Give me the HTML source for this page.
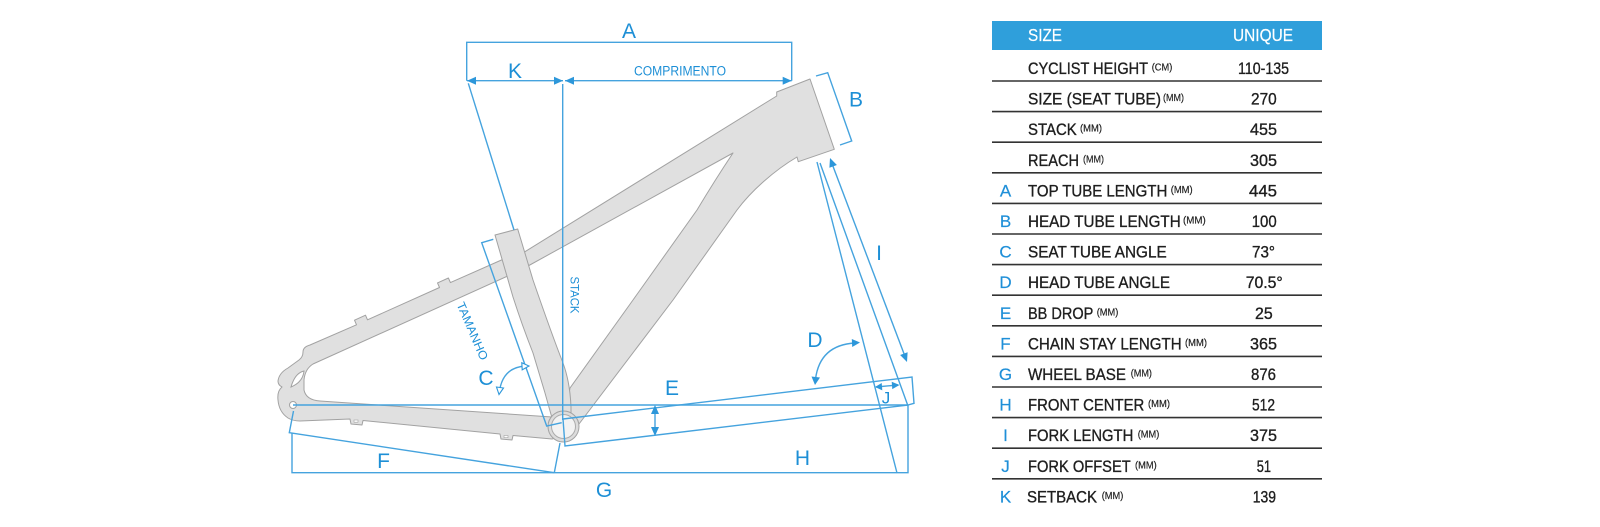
<!DOCTYPE html>
<html>
<head>
<meta charset="utf-8">
<style>
  html,body{margin:0;padding:0;background:#fff;}
  svg{display:block;}
  .ln{fill:none;stroke:#45a3de;stroke-width:1.4;}
  .ah{fill:#2d97da;stroke:none;}
  .lb{font-family:"Liberation Sans",Arial,sans-serif;fill:#1d8fd6;}
  .fr{fill:#e0e0e0;stroke:#a2a2a2;stroke-width:1;stroke-linejoin:round;}
  .tt{font-family:"Liberation Sans",Arial,sans-serif;font-size:17px;fill:#1e1e1e;stroke:#1e1e1e;stroke-width:0.35;}
  .sp{font-family:"Liberation Sans",Arial,sans-serif;font-size:10.5px;fill:#1e1e1e;stroke:#1e1e1e;stroke-width:0.2;}
  .tl{font-family:"Liberation Sans",Arial,sans-serif;font-size:17px;fill:#1f8fd8;stroke:#1f8fd8;stroke-width:0.2;}
</style>
</head>
<body>
<svg width="1600" height="527" viewBox="0 0 1600 527" xmlns="http://www.w3.org/2000/svg">
  <rect width="1600" height="527" fill="#fff"/>

  <!-- ============ FRAME ============ -->
  <path class="fr" d="M 506,258
    L 450.4,282.6 L 448.4,278.0 L 437.5,282.9 L 439.5,287.5
    L 367.5,319.8 L 365.5,315.2 L 354.5,320.2 L 356.5,324.8
    L 310,345
    Q 303,347 303,352 Q 303,357 299,360 L 288,368 Q 279,373 278,381 Q 278,385 282,387
    Q 277,391 278,400 Q 279,412 288,418 Q 293,421 300,421
    L 350,419 L 351,424 L 362,425 L 363,420.5
    L 500,434 L 501,439 L 512,440 L 513,435.5 L 552,439
    L 560,437 L 552,417
    L 320,401 Q 306,400 304,390 L 304,380 Q 305,369 313,364
    L 510,275 Z"/>
  <path d="M 291,387 Q 295,373 304,371 Q 303,382 291,387 Z" fill="#fff" stroke="#a2a2a2" stroke-width="1"/>
  <circle cx="293" cy="405" r="3.5" fill="#fff" stroke="#a2a2a2" stroke-width="1"/>
  <rect x="354" y="420" width="4" height="2.2" fill="#fff" stroke="#a2a2a2" stroke-width="0.6"/>
  <rect x="504" y="435.5" width="4" height="2.2" fill="#fff" stroke="#a2a2a2" stroke-width="0.6"/>

  <path class="fr" d="M 518,256
    L 776.7,96 L 776.7,92 L 810,79 L 834.3,149.3 L 798.3,161.7 L 797,157
    C 775,170 752,190 737,210
    L 673,300 L 579,424 L 562,428
    L 570,388 L 633,300 L 697,210 Q 715,180 733,153
    L 528,266 Z"/>

  <path class="fr" d="M 495,235 L 517.7,229 L 533,280 Q 552,335 563,363 Q 570,382 571,407 L 571,418
    L 552,418 L 545,393 L 533,353 Q 522,325 513,297 Z"/>

  <circle cx="563.5" cy="426.5" r="15.5" fill="#dcdcdc" stroke="#a2a2a2" stroke-width="1"/>
  <circle cx="563.5" cy="426.5" r="12" fill="#f3f3f3" stroke="#ababab" stroke-width="1"/>

  <!-- ============ DIMENSION LINES ============ -->
  <path class="ln" d="M466.7,80.7 V42.3 H791.7 V80.7"/>
  <path class="ln" d="M467,80.7 H563 M565,80.7 H791.7"/>
  <polygon class="ah" points="467,80.7 476,76.7 476,84.7"/>
  <polygon class="ah" points="563,80.7 554,76.7 554,84.7"/>
  <polygon class="ah" points="565,80.7 574,76.7 574,84.7"/>
  <polygon class="ah" points="791.7,80.7 782.7,76.7 782.7,84.7"/>
  <path class="ln" d="M562.7,84 V420"/>
  <path class="ln" d="M468.3,83.3 L514,230"/>
  <path class="ln" d="M493.3,239.3 L481.7,242.7 L546.7,426 L561.7,422.7"/>
  <path class="ln" d="M563,419 L912,377 L914,403.3 L908,405"/>
  <path class="ln" d="M563,419 L565,446 L908,405"/>
  <path class="ln" d="M293,405 H908"/>
  <path class="ln" d="M292,433 V472.7 H908 V405"/>
  <path class="ln" d="M293.5,411 L289.3,432.7 L554.3,472.7 M560,443 L554.3,472.7"/>
  <path class="ln" d="M816,76 L827.7,72.7 L851.7,141 L840,145"/>
  <path class="ln" d="M817,162 L897,473 M820,163 L908,406"/>
  <path class="ln" d="M831,161 L906,359"/>
  <polygon class="ah" points="830,158 836.9,165.0 829.4,167.8"/>
  <polygon class="ah" points="907,362 907.6,352.2 900.1,355.0"/>
  <path class="ln" d="M876,387 L898,385"/>
  <polygon class="ah" points="875,387 882.3,390.4 881.7,383.0"/>
  <polygon class="ah" points="899.5,385 892.3,389.1 891.7,381.7"/>
  <path class="ln" d="M655,408 V433"/>
  <polygon class="ah" points="655,405 651,414 659,414"/>
  <polygon class="ah" points="655,436 651,427 659,427"/>
  <path class="ln" d="M855,343 Q 820,345 815.5,379"/>
  <polygon class="ah" points="860,342.5 852.2,347 851.8,339"/>
  <polygon class="ah" points="815,385 811.5,376.5 820,377.5"/>
  <path class="ln" d="M526,366 Q 503,367 499.5,391"/>
  <polygon points="529,366 522.2,369.8 521.8,362.8" fill="#fff" stroke="#2d97da" stroke-width="1.1"/>
  <polygon points="499,394.5 496.5,387 503.5,388" fill="#fff" stroke="#2d97da" stroke-width="1.1"/>

  <!-- ============ DIAGRAM LABELS ============ -->
  <g class="lb" font-size="21" text-anchor="middle">
    <text x="629" y="38">A</text>
    <text x="515" y="78">K</text>
    <text x="856" y="106.7">B</text>
    <text x="879" y="260">I</text>
    <text x="486" y="385">C</text>
    <text x="815" y="347">D</text>
    <text x="672" y="395">E</text>
    <text x="383.5" y="468">F</text>
    <text x="604" y="497">G</text>
    <text x="802.5" y="465">H</text>
    <text x="886" y="403.5" font-size="17">J</text>
  </g>
  <text class="lb" x="680" y="75.5" font-size="13.5" text-anchor="middle" textLength="92" lengthAdjust="spacingAndGlyphs">COMPRIMENTO</text>
  <text class="lb" font-size="12" text-anchor="middle" transform="translate(570.5,295) rotate(90)" textLength="37" lengthAdjust="spacingAndGlyphs">STACK</text>
  <text class="lb" font-size="12" text-anchor="middle" transform="translate(468.6,332.7) rotate(66.7)" textLength="62" lengthAdjust="spacingAndGlyphs">TAMANHO</text>

  <!-- ============ TABLE ============ -->
  <rect x="992" y="21" width="330" height="29" fill="#2f9fdb"/>
  <text x="1028" y="41" font-family="Liberation Sans, Arial, sans-serif" font-size="17.5" fill="#fff" stroke="#fff" stroke-width="0.2" textLength="34" lengthAdjust="spacingAndGlyphs">SIZE</text>
  <text x="1233" y="41" font-family="Liberation Sans, Arial, sans-serif" font-size="17.5" fill="#fff" stroke="#fff" stroke-width="0.2" textLength="60" lengthAdjust="spacingAndGlyphs">UNIQUE</text>

  <g stroke="#333" stroke-width="1.6">
    <line x1="992" y1="81" x2="1322" y2="81"/>
    <line x1="992" y1="111.6" x2="1322" y2="111.6"/>
    <line x1="992" y1="142.2" x2="1322" y2="142.2"/>
    <line x1="992" y1="172.8" x2="1322" y2="172.8"/>
    <line x1="992" y1="203.4" x2="1322" y2="203.4"/>
    <line x1="992" y1="234" x2="1322" y2="234"/>
    <line x1="992" y1="264.6" x2="1322" y2="264.6"/>
    <line x1="992" y1="295.2" x2="1322" y2="295.2"/>
    <line x1="992" y1="325.8" x2="1322" y2="325.8"/>
    <line x1="992" y1="356.4" x2="1322" y2="356.4"/>
    <line x1="992" y1="387" x2="1322" y2="387"/>
    <line x1="992" y1="417.6" x2="1322" y2="417.6"/>
    <line x1="992" y1="448.2" x2="1322" y2="448.2"/>
    <line x1="992" y1="478.8" x2="1322" y2="478.8"/>
  </g>

  <text class="tt" x="1028" y="74" textLength="120" lengthAdjust="spacingAndGlyphs">CYCLIST HEIGHT</text>
  <text class="sp" x="1151.7" y="70.5" textLength="20.6" lengthAdjust="spacingAndGlyphs">(CM)</text>
  <text class="tt" x="1238" y="74" textLength="51" lengthAdjust="spacingAndGlyphs">110-135</text>

  <text class="tt" x="1028" y="104.6" textLength="133" lengthAdjust="spacingAndGlyphs">SIZE (SEAT TUBE)</text>
  <text class="sp" x="1163" y="101.1" textLength="21" lengthAdjust="spacingAndGlyphs">(MM)</text>
  <text class="tt" x="1251" y="104.6" textLength="25.7" lengthAdjust="spacingAndGlyphs">270</text>

  <text class="tt" x="1028" y="135.2" textLength="48.7" lengthAdjust="spacingAndGlyphs">STACK</text>
  <text class="sp" x="1080" y="131.7" textLength="22" lengthAdjust="spacingAndGlyphs">(MM)</text>
  <text class="tt" x="1250" y="135.2" textLength="27" lengthAdjust="spacingAndGlyphs">455</text>

  <text class="tt" x="1028" y="165.8" textLength="51" lengthAdjust="spacingAndGlyphs">REACH</text>
  <text class="sp" x="1083" y="162.3" textLength="21" lengthAdjust="spacingAndGlyphs">(MM)</text>
  <text class="tt" x="1250" y="165.8" textLength="27" lengthAdjust="spacingAndGlyphs">305</text>

  <text class="tl" x="1005.5" y="196.4" text-anchor="middle">A</text>
  <text class="tt" x="1028" y="196.4" textLength="139.3" lengthAdjust="spacingAndGlyphs">TOP TUBE LENGTH</text>
  <text class="sp" x="1170.7" y="192.9" textLength="22" lengthAdjust="spacingAndGlyphs">(MM)</text>
  <text class="tt" x="1249" y="196.4" textLength="28" lengthAdjust="spacingAndGlyphs">445</text>

  <text class="tl" x="1005.5" y="227" text-anchor="middle">B</text>
  <text class="tt" x="1028" y="227" textLength="152.7" lengthAdjust="spacingAndGlyphs">HEAD TUBE LENGTH</text>
  <text class="sp" x="1183" y="223.5" textLength="22.7" lengthAdjust="spacingAndGlyphs">(MM)</text>
  <text class="tt" x="1251.7" y="227" textLength="25" lengthAdjust="spacingAndGlyphs">100</text>

  <text class="tl" x="1005.5" y="257.6" text-anchor="middle">C</text>
  <text class="tt" x="1028" y="257.6" textLength="138.7" lengthAdjust="spacingAndGlyphs">SEAT TUBE ANGLE</text>
  <text class="tt" x="1252" y="257.6" textLength="23" lengthAdjust="spacingAndGlyphs">73°</text>

  <text class="tl" x="1005.5" y="288.2" text-anchor="middle">D</text>
  <text class="tt" x="1028" y="288.2" textLength="142" lengthAdjust="spacingAndGlyphs">HEAD TUBE ANGLE</text>
  <text class="tt" x="1245.7" y="288.2" textLength="37" lengthAdjust="spacingAndGlyphs">70.5°</text>

  <text class="tl" x="1005.5" y="318.8" text-anchor="middle">E</text>
  <text class="tt" x="1028" y="318.8" textLength="65.3" lengthAdjust="spacingAndGlyphs">BB DROP</text>
  <text class="sp" x="1096.7" y="315.3" textLength="21.6" lengthAdjust="spacingAndGlyphs">(MM)</text>
  <text class="tt" x="1255" y="318.8" textLength="17.7" lengthAdjust="spacingAndGlyphs">25</text>

  <text class="tl" x="1005.5" y="349.4" text-anchor="middle">F</text>
  <text class="tt" x="1028" y="349.4" textLength="153.7" lengthAdjust="spacingAndGlyphs">CHAIN STAY LENGTH</text>
  <text class="sp" x="1185" y="345.9" textLength="22" lengthAdjust="spacingAndGlyphs">(MM)</text>
  <text class="tt" x="1250" y="349.4" textLength="27" lengthAdjust="spacingAndGlyphs">365</text>

  <text class="tl" x="1005.5" y="380" text-anchor="middle">G</text>
  <text class="tt" x="1028" y="380" textLength="98" lengthAdjust="spacingAndGlyphs">WHEEL BASE</text>
  <text class="sp" x="1130.7" y="376.5" textLength="21.3" lengthAdjust="spacingAndGlyphs">(MM)</text>
  <text class="tt" x="1251" y="380" textLength="25" lengthAdjust="spacingAndGlyphs">876</text>

  <text class="tl" x="1005.5" y="410.6" text-anchor="middle">H</text>
  <text class="tt" x="1028" y="410.6" textLength="116.3" lengthAdjust="spacingAndGlyphs">FRONT CENTER</text>
  <text class="sp" x="1148" y="407.1" textLength="22" lengthAdjust="spacingAndGlyphs">(MM)</text>
  <text class="tt" x="1252" y="410.6" textLength="23" lengthAdjust="spacingAndGlyphs">512</text>

  <text class="tl" x="1005.5" y="441.2" text-anchor="middle">I</text>
  <text class="tt" x="1028" y="441.2" textLength="105.3" lengthAdjust="spacingAndGlyphs">FORK LENGTH</text>
  <text class="sp" x="1137.7" y="437.7" textLength="21.6" lengthAdjust="spacingAndGlyphs">(MM)</text>
  <text class="tt" x="1250" y="441.2" textLength="27" lengthAdjust="spacingAndGlyphs">375</text>

  <text class="tl" x="1005.5" y="471.8" text-anchor="middle">J</text>
  <text class="tt" x="1028" y="471.8" textLength="102.7" lengthAdjust="spacingAndGlyphs">FORK OFFSET</text>
  <text class="sp" x="1135" y="468.3" textLength="21.7" lengthAdjust="spacingAndGlyphs">(MM)</text>
  <text class="tt" x="1256.7" y="471.8" textLength="14.3" lengthAdjust="spacingAndGlyphs">51</text>

  <text class="tl" x="1005.5" y="502.4" text-anchor="middle">K</text>
  <text class="tt" x="1027" y="502.4" textLength="70" lengthAdjust="spacingAndGlyphs">SETBACK</text>
  <text class="sp" x="1101.7" y="498.9" textLength="21.6" lengthAdjust="spacingAndGlyphs">(MM)</text>
  <text class="tt" x="1252.7" y="502.4" textLength="23.3" lengthAdjust="spacingAndGlyphs">139</text>
</svg>
</body>
</html>
